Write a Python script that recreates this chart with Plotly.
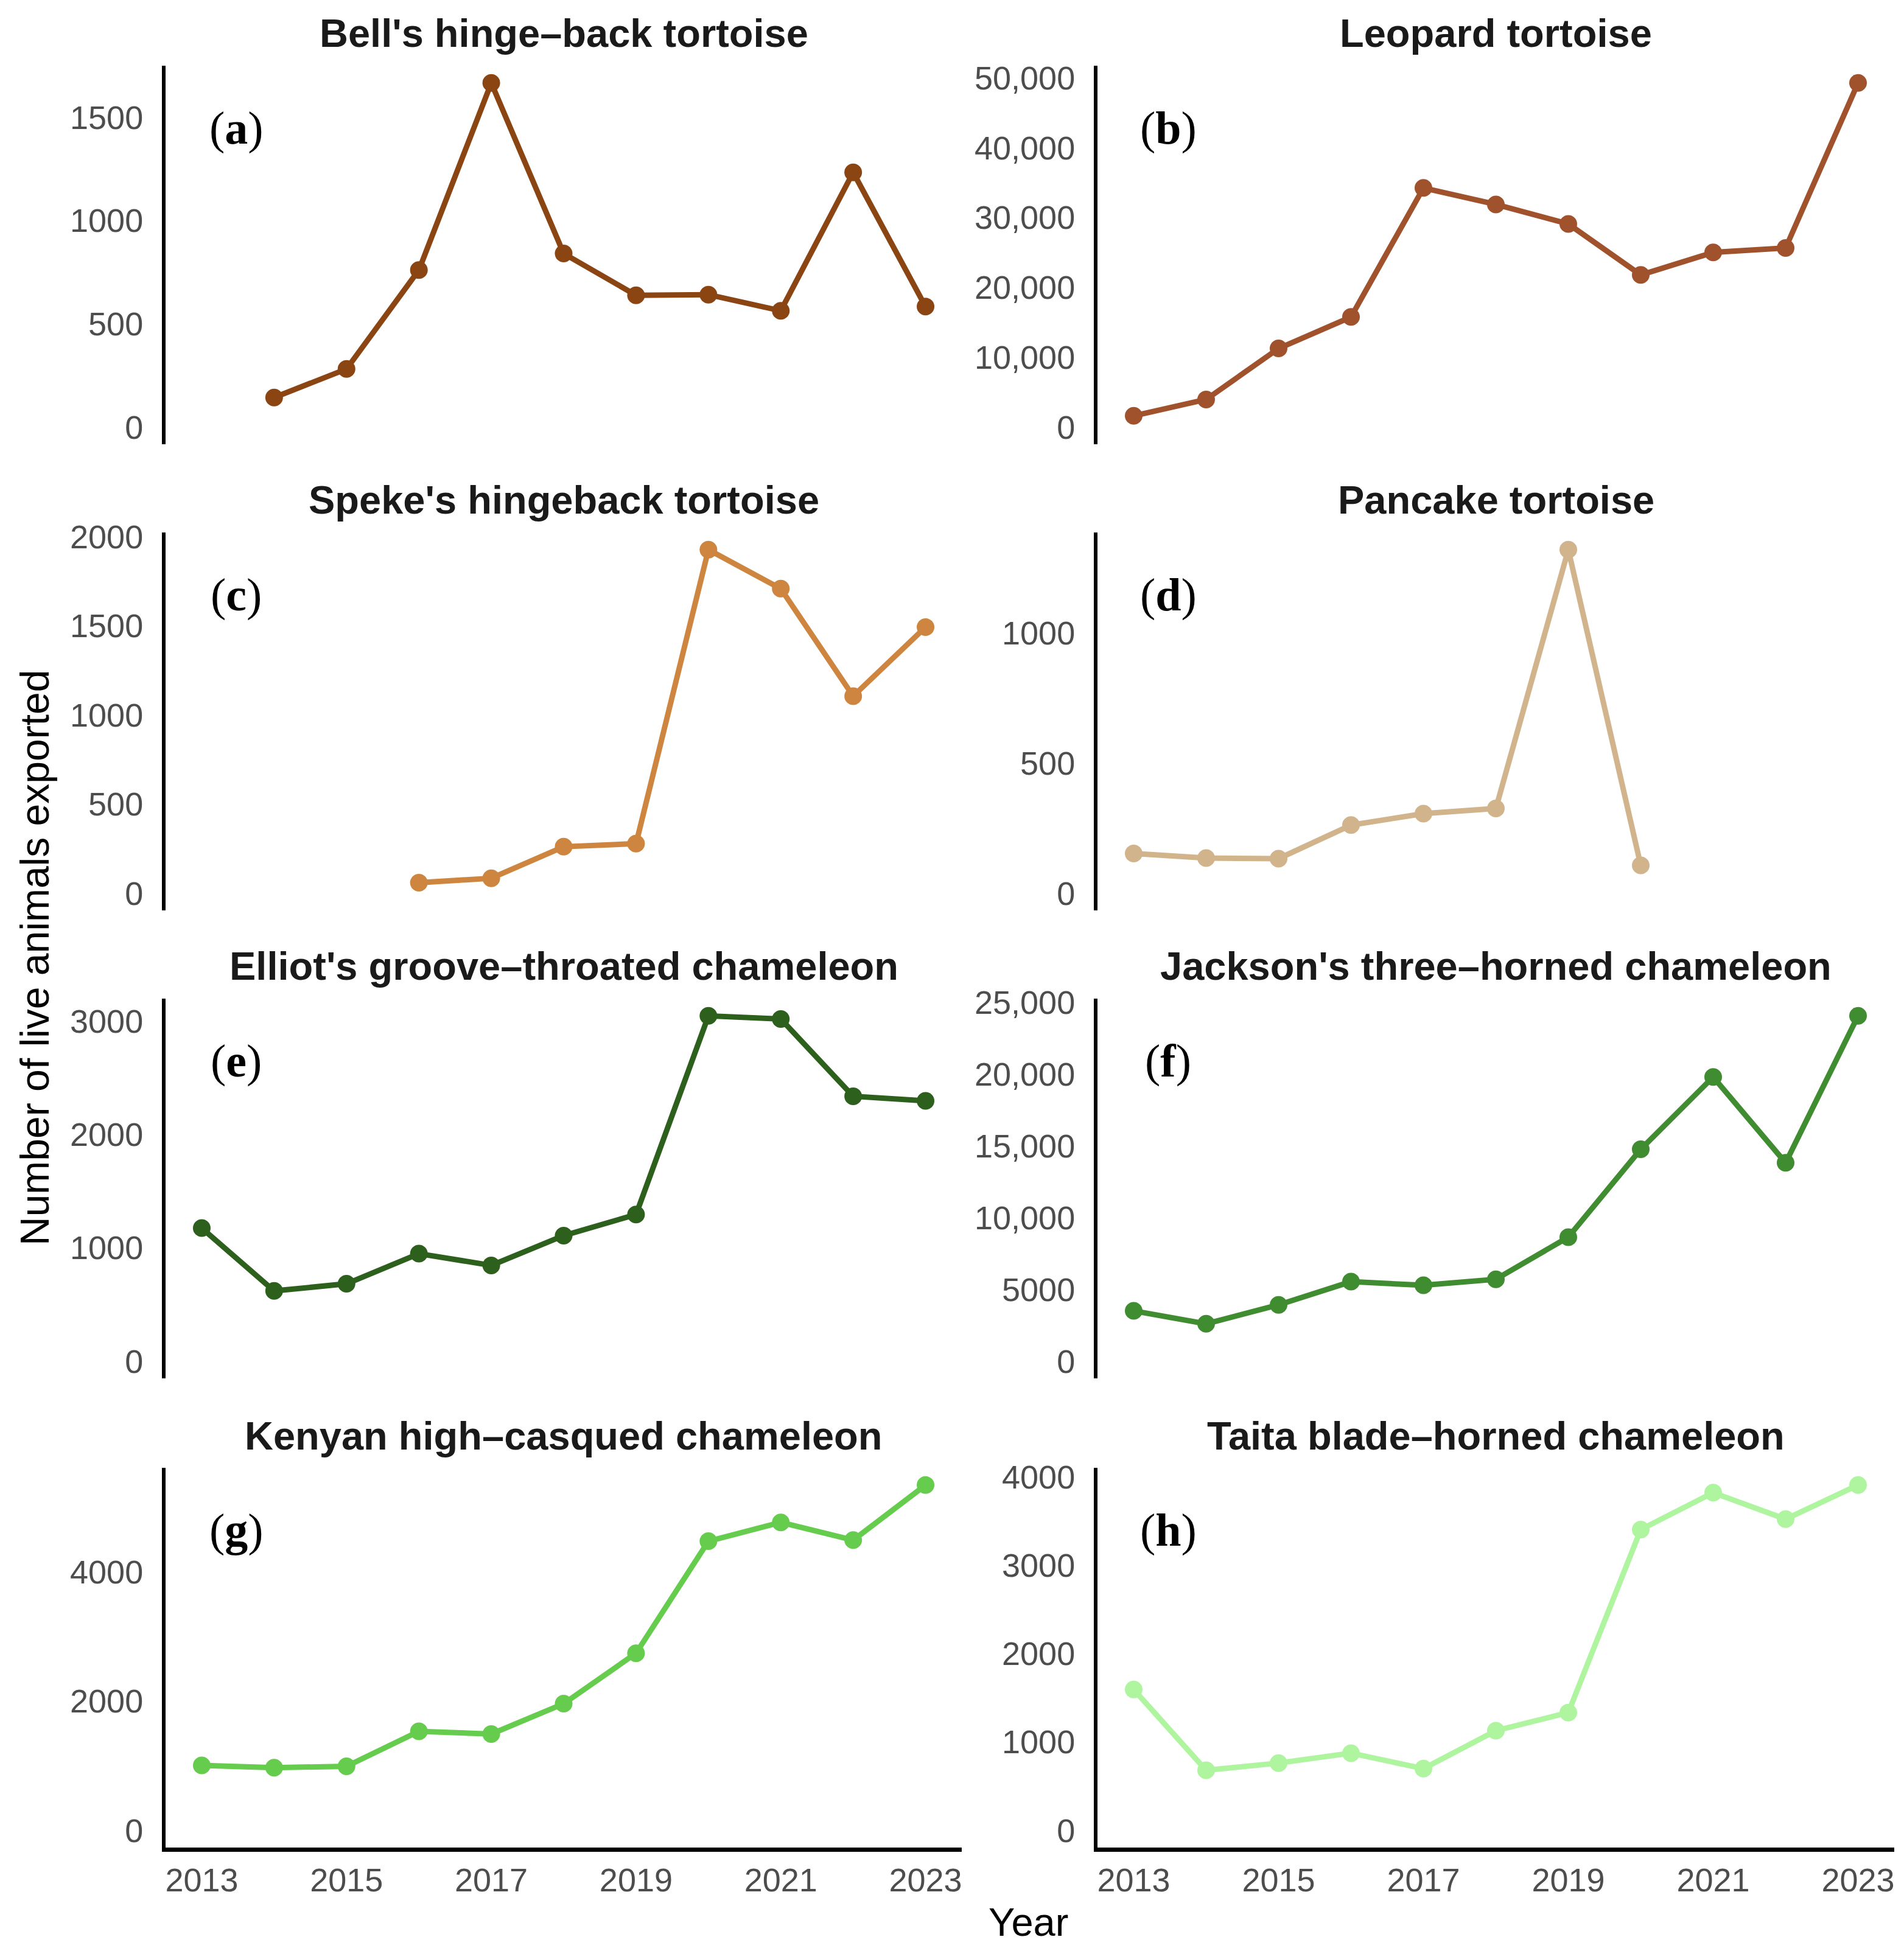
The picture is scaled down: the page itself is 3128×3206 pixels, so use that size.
import plotly.graph_objects as go

years = [2013, 2014, 2015, 2016, 2017, 2018, 2019, 2020, 2021, 2022, 2023]

bell = [None, 143, 281, 760, 1666, 840, 638, 641, 563, 1233, 583]
leopard = [1600, 3950, 11250, 15760, 34240, 31870, 29080, 21780, 25000, 25640, 49270]
speke = [None, None, None, 59, 84, 261, 278, 1928, 1709, 1106, 1493]
pancake = [153, 135, 133, 262, 306, 326, 1321, 107, None, None, None]
elliot = [1173, 619, 682, 948, 844, 1107, 1293, 3045, 3018, 2336, 2296]
jackson = [3502, 2600, 3922, 5537, 5285, 5705, 8641, 14765, 19800, 13821, 24060]
kenyan = [1005, 969, 990, 1531, 1490, 1959, 2740, 4474, 4765, 4490, 5342]
taita = [1593, 679, 761, 873, 698, 1127, 1332, 3403, 3821, 3522, 3907]

titles = ["Bell's hinge\u2013back tortoise", "Leopard tortoise",
          "Speke's hingeback tortoise", "Pancake tortoise",
          "Elliot's groove\u2013throated chameleon", "Jackson's three\u2013horned chameleon",
          "Kenyan high\u2013casqued chameleon", "Taita blade\u2013horned chameleon"]
labels = ["a", "b", "c", "d", "e", "f", "g", "h"]
series = [bell, leopard, speke, pancake, elliot, jackson, kenyan, taita]
colors = ["#8B4513", "#A0522D", "#CD853F", "#D2B48C",
          "#2C601C", "#408C30", "#66CC4D", "#AFF5A0"]
dticks = [500, 10000, 500, 500, 1000, 5000, 2000, 1000]

W, H = 3128, 3206
col_px = [(272, 1580), (1803, 3112)]
row_px = [(108, 730), (875, 1496), (1641, 2265), (2412, 3036)]

fig = go.Figure()
layout = dict(
    width=W, height=H,
    margin=dict(l=0, r=0, t=0, b=0, autoexpand=False),
    paper_bgcolor="white", plot_bgcolor="white",
    showlegend=False,
    font=dict(family="Liberation Sans, Arial, sans-serif"),
)
annotations = []

for i, (vals, col, title, lab, dt) in enumerate(zip(series, colors, titles, labels, dticks)):
    r, c = divmod(i, 2)
    k = i + 1
    xname = "xaxis" if k == 1 else f"xaxis{k}"
    yname = "yaxis" if k == 1 else f"yaxis{k}"
    xref = "x" if k == 1 else f"x{k}"
    yref = "y" if k == 1 else f"y{k}"
    x0, x1 = col_px[c]
    top, bot = row_px[r]
    xs = [y for y, v in zip(years, vals) if v is not None]
    ys = [v for v in vals if v is not None]
    fig.add_trace(go.Scatter(
        x=xs, y=ys, mode="lines+markers", xaxis=xref, yaxis=yref,
        line=dict(color=col, width=9),
        marker=dict(color=col, size=29),
    ))
    vmax = max(ys)
    bottom_row = (r == 3)
    layout[xname] = dict(
        domain=[x0 / W, x1 / W], range=[2012.5, 2023.5], anchor=yref,
        automargin=False,
        showgrid=False, zeroline=False,
        showline=bottom_row, linecolor="black", linewidth=7,
        showticklabels=bottom_row, tickmode="linear", tick0=2013, dtick=2,
        ticks="", tickfont=dict(size=54, color="#4D4D4D"),
    )
    layout[yname] = dict(
        domain=[1 - bot / H, 1 - top / H], range=[-0.05 * vmax, 1.05 * vmax], anchor=xref,
        automargin=False,
        showgrid=False, zeroline=False,
        showline=True, linecolor="black", linewidth=6,
        tickmode="linear", tick0=0, dtick=dt, exponentformat="none",
        ticks="outside", ticklen=20, tickcolor="rgba(0,0,0,0)",
        tickfont=dict(size=54, color="#4D4D4D"),
    )
    annotations.append(dict(
        text=f"<b>{title}</b>", xref="paper", yref="paper",
        x=(x0 + x1) / 2 / W, y=1 - (top - 53) / H,
        xanchor="center", yanchor="middle", showarrow=False,
        font=dict(size=65, color="#1A1A1A", family="Liberation Sans, Arial, sans-serif"),
    ))
    annotations.append(dict(
        text=f"(<b>{lab}</b>)", xref=f"{xref} domain", yref=f"{yref} domain",
        x=0.0887, y=0.835, xanchor="center", yanchor="middle", showarrow=False,
        font=dict(size=76, color="black", family="Liberation Serif, Times New Roman, serif"),
    ))

annotations.append(dict(
    text="Number of live animals exported", xref="paper", yref="paper",
    x=57 / W, y=1 - 1574 / H, xanchor="center", yanchor="middle",
    textangle=-90, showarrow=False,
    font=dict(size=66, color="black", family="Liberation Sans, Arial, sans-serif"),
))
annotations.append(dict(
    text="Year", xref="paper", yref="paper",
    x=1689 / W, y=1 - 3158 / H, xanchor="center", yanchor="middle",
    showarrow=False,
    font=dict(size=65, color="black", family="Liberation Sans, Arial, sans-serif"),
))
layout["annotations"] = annotations
fig.update_layout(**layout)
fig.write_html("out.html")
